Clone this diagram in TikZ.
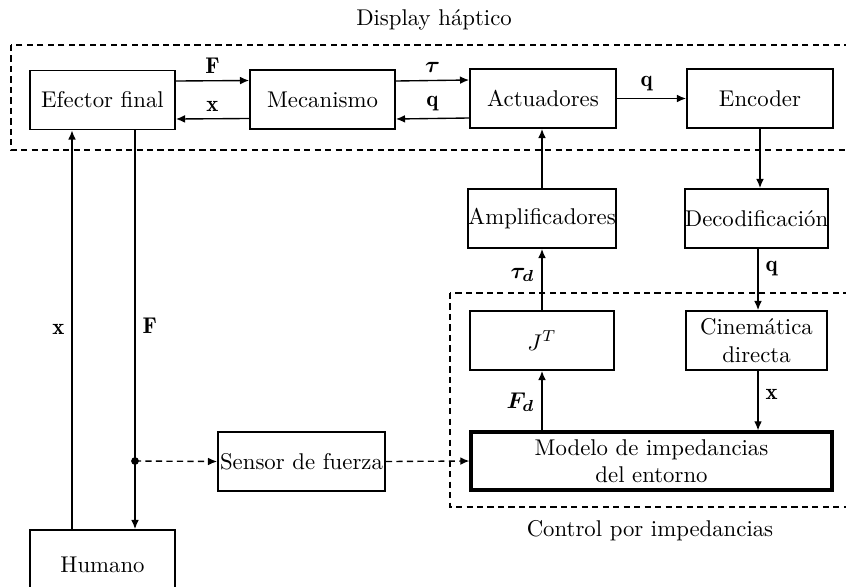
\documentclass[tikz,border=0pt]{standalone}
\usepackage{fontspec}
\usepackage{amsmath,bm}
\usetikzlibrary{arrows.meta}
\def\u{0.439pt}
\begin{document}
\begin{tikzpicture}[x=\u, y=-\u,
  blk/.style={draw, line width=0.8pt, inner sep=0pt, align=center, minimum height={59*\u}},
  tip/.style={-{Latex[length=4pt,width=3.4pt]}},
  arr/.style={line width=0.6pt, tip},
  dsh/.style={line width=0.6pt, dash pattern=on 2.7pt off 1.9pt},
  lbl/.style={inner sep=3pt}]
\useasboundingbox (0,0) rectangle (846,586);
% dashed regions
\draw[dsh] (11,45) rectangle (860,150);
\draw[dsh] (450,293) rectangle (860,507);
\node (tit) at (434,20) {Display háptico};
\node (tit2) at (650,531) {Control por impedancias};
% blocks
\node[blk, minimum width={145*\u}] (ef) at (102.5,100) {Efector final};
\node[blk, minimum width={145*\u}] (mec) at (322.5,99.5) {Mecanismo};
\node[blk, minimum width={146*\u}] (act) at (543,98.5) {Actuadores};
\node[blk, minimum width={146*\u}] (enc) at (760,98.5) {Encoder};
\node[blk, minimum width={144*\u}] (amp) at (542,218.5) {Amplificadores};
\node[blk, minimum width={141*\u}] (dec) at (756.5,218.5) {Decodificación};
\node[blk, minimum width={144*\u}] (jt) at (542,340.5) {$J^T$};
\node[blk, minimum width={141*\u}] (cin) at (756.5,340.5) {Cinemática\\directa};
\node[blk, line width=1.4pt, minimum width={361*\u}, minimum height={58*\u}] (mod) at (651.5,461) {Modelo de impedancias\\del entorno};
\node[blk, minimum width={167*\u}] (sen) at (301.5,461.5) {Sensor de fuerza};
\node[blk, minimum width={145*\u}, minimum height={70*\u}] (hum) at (102.5,565) {Humano};
% helper coordinates
\coordinate (dot) at (135,461);
\coordinate (xl) at (72,461);
\coordinate (ampx) at (542,0);
\coordinate (cinx) at (758,0);
% top row
\draw[arr] ([yshift={19*\u}]ef.east) -- node[lbl, above] {$\mathbf{F}$} ([yshift={19*\u}]mec.west);
\draw[arr] ([yshift={-19*\u}]mec.west) -- node[lbl, above] {$\mathbf{x}$} ([yshift={-19*\u}]ef.east);
\draw[arr] ([yshift={18.5*\u}]mec.east) -- node[lbl, above] {$\bm{\tau}$} ([yshift={18.5*\u}]act.west);
\draw[arr] ([yshift={-19.5*\u}]act.west) -- node[lbl, above] {$\mathbf{q}$} ([yshift={-19.5*\u}]mec.east);
\draw[arr] (act.east) -- node[lbl, above, pos=0.43] {$\mathbf{q}$} (enc.west);
% right column
\draw[arr] (enc.south) -- (enc.south |- dec.north);
\draw[arr] (amp.north) -- (amp.north |- act.south);
\draw[arr] (jt.north) -- node[lbl, left, pos=0.57] {$\bm{\tau_d}$} (amp.south);
\draw[arr] (dec.south -| cinx) -- node[lbl, right, pos=0.32] {$\mathbf{q}$} (cin.north -| cinx);
\draw[arr] (mod.north -| ampx) -- node[lbl, left, pos=0.47] {$\bm{F_d}$} (jt.south);
\draw[arr] (cin.south -| cinx) -- node[lbl, right, pos=0.39] {$\mathbf{x}$} (mod.north -| cinx);
% human loop
\draw[arr] (hum.north -| xl) -- node[lbl, left, pos=0.5] {$\mathbf{x}$} (ef.south -| xl);
\draw[arr] (ef.south -| dot) -- node[lbl, right, pos=0.49] {$\mathbf{F}$} (hum.north -| dot);
\fill (dot) circle (1.7pt);
\draw[dsh, tip] (dot) -- (sen.west);
\draw[dsh, tip] (sen.east) -- (mod.west);
\end{tikzpicture}
\end{document}
